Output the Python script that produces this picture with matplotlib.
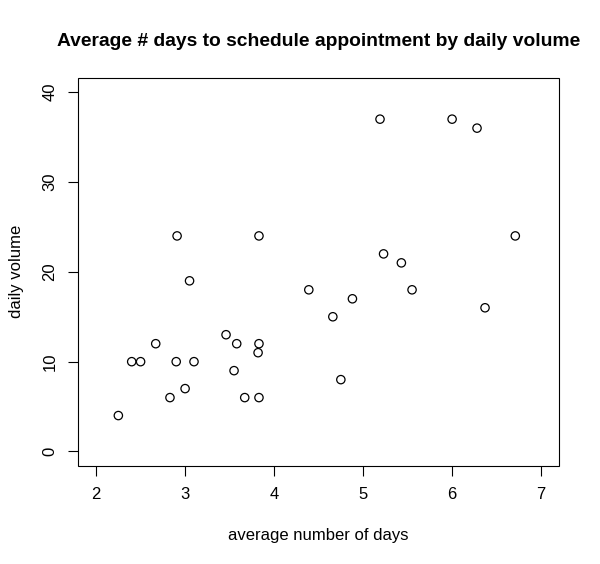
import matplotlib
matplotlib.use("Agg")
import matplotlib.pyplot as plt

# average number of days to schedule vs daily volume
avg_days = [2.25, 2.40, 2.50, 2.67, 2.83, 2.90, 2.91, 3.00, 3.05, 3.10,
             3.46, 3.55, 3.58, 3.67, 3.82, 3.83, 3.83, 3.83, 4.39, 4.66,
             4.75, 4.88, 5.19, 5.23, 5.43, 5.55, 6.00, 6.28, 6.37, 6.71]
daily_volume = [4, 10, 10, 12, 6, 10, 24, 7, 19, 10,
                13, 9, 12, 6, 11, 6, 12, 24, 18, 15,
                8, 17, 37, 22, 21, 18, 37, 36, 16, 24]

x_ticks = [2, 3, 4, 5, 6, 7]
y_ticks = [0, 10, 20, 30, 40]

plt.rcParams["font.family"] = ["Liberation Sans", "DejaVu Sans"]

fig = plt.figure(figsize=(6, 5.64), dpi=100)
ax = fig.add_axes([0.1305, 0.174, 0.801, 0.688])

ax.scatter(avg_days, daily_volume, s=36, facecolors="none",
           edgecolors="black", linewidths=0.9)

# R-style limits: 4% padding around xlim/ylim
ax.set_xlim(2 - 0.2, 7 + 0.2)
ax.set_ylim(0 - 1.6, 40 + 1.6)
ax.set_xticks(x_ticks)
ax.set_yticks(y_ticks)
ax.set_xticklabels([str(v) for v in x_ticks], fontsize=12)
ax.set_yticklabels([str(v) for v in y_ticks], fontsize=12, rotation=90, va="center")
ax.tick_params(direction="out", length=7, width=0.8, pad=8)

for s in ax.spines.values():
    s.set_visible(False)
ax.add_patch(plt.Rectangle((0, 0), 1, 1, transform=ax.transAxes, fill=False,
                           edgecolor="black", linewidth=0.8, clip_on=False))

ax.set_xlabel("average number of days", fontsize=12, labelpad=19)
ax.set_ylabel("daily volume", fontsize=12, labelpad=13)
fig.text(0.531, 0.927, "Average # days to schedule appointment by daily volume",
         ha="center", va="center", fontsize=13.9, fontweight="bold")

fig.savefig("out.png", dpi=100)
